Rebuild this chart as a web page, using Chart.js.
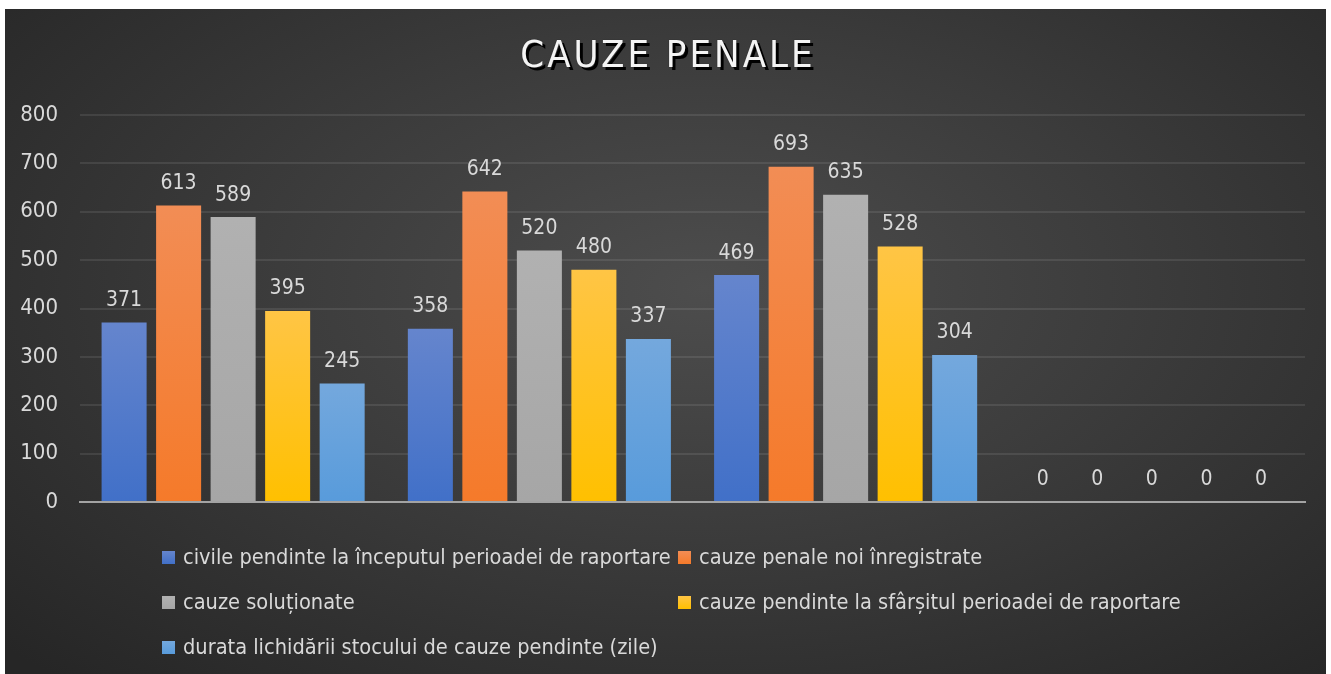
<!DOCTYPE html>
<html lang="ro">
<head>
  <meta charset="UTF-8">
  <title>Cauze penale</title>
  <script src="https://cdn.jsdelivr.net/npm/chart.js"></script>
  <style>
    html, body { margin: 0; padding: 0; background: #fff; }
    #box {
      position: absolute; left: 5px; top: 9px; width: 1321px; height: 665px;
      background: radial-gradient(ellipse 72% 80% at 53% 42%, #4d4d4d 0%, #3c3c3c 45%, #262626 100%);
      overflow: hidden;
    }
    #chart { position: absolute; left: 0; top: 0; }
    #legend {
      position: absolute; left: 157px; top: 531px;
      display: grid; grid-template-columns: 516px auto; row-gap: 0;
      font-family: "DejaVu Sans Condensed", "Liberation Sans Narrow", sans-serif;
      font-size: 21.6px; color: #d9d9d9;
    }
    #legend .item { height: 45px; line-height: 34px; white-space: nowrap; }
    #legend .sw { display: inline-block; width: 13px; height: 13px; margin-right: 8px; vertical-align: 0px; }
  </style>
</head>
<body>
<div id="box">
  <canvas id="chart" width="1321" height="665"></canvas>
  <div id="legend"></div>
</div>
<script>
  const categories = ['', '', '', ''];
  const seriesNames = [
    'civile pendinte la începutul perioadei de raportare',
    'cauze penale noi înregistrate',
    'cauze soluționate',
    'cauze pendinte la sfârșitul perioadei de raportare',
    'durata lichidării stocului de cauze pendinte (zile)'
  ];
  const civilePendinte = [371, 358, 469, 0];
  const noiInregistrate = [613, 642, 693, 0];
  const solutionate = [589, 520, 635, 0];
  const pendinteSfarsit = [395, 480, 528, 0];
  const durataLichidare = [245, 337, 304, 0];
  const yTicks = [0, 100, 200, 300, 400, 500, 600, 700, 800];

  // top / bottom colours of each bar gradient
  const colors = [
    ['#6585cd', '#4170c8'],
    ['#f28d55', '#f57a2a'],
    ['#b1b1b1', '#a6a6a6'],
    ['#ffc545', '#ffc000'],
    ['#74a8dd', '#589bdb']
  ];
  const FONT = '"DejaVu Sans Condensed", "Liberation Sans Narrow", sans-serif';

  function barFill(i) {
    return function (ctx) {
      const chart = ctx.chart;
      const area = chart.chartArea;
      if (!area) return colors[i][1];
      const v = ctx.raw || 0;
      const top = chart.scales.y.getPixelForValue(v);
      const g = chart.ctx.createLinearGradient(0, top, 0, area.bottom);
      g.addColorStop(0, colors[i][0]);
      g.addColorStop(1, colors[i][1]);
      return g;
    };
  }

  const allData = [civilePendinte, noiInregistrate, solutionate, pendinteSfarsit, durataLichidare];

  const titlePlugin = {
    id: 'shadowTitle',
    afterDraw(chart) {
      const c = chart.ctx;
      c.save();
      c.font = '38px ' + FONT;
      c.letterSpacing = '3px';
      c.textAlign = 'center';
      c.textBaseline = 'middle';
      c.fillStyle = '#000';
      c.fillText('CAUZE PENALE', 666, 51);
      c.fillStyle = '#f4f4f4';
      c.shadowColor = 'rgba(0,0,0,0.6)';
      c.shadowBlur = 1;
      c.fillText('CAUZE PENALE', 663, 48);
      c.restore();
    }
  };

  const valuePlugin = {
    id: 'values',
    afterDatasetsDraw(chart) {
      const c = chart.ctx;
      c.save();
      c.font = '21px ' + FONT;
      c.fillStyle = '#d9d9d9';
      c.textAlign = 'center';
      c.textBaseline = 'middle';
      chart.data.datasets.forEach((ds, i) => {
        chart.getDatasetMeta(i).data.forEach((bar, j) => {
          c.fillText(String(ds.data[j]), bar.x, bar.y - 22);
        });
      });
      c.restore();
    }
  };

  const chart = new Chart(document.getElementById('chart'), {
    type: 'bar',
    data: {
      labels: categories,
      datasets: allData.map((d, i) => ({
        label: seriesNames[i],
        data: d,
        backgroundColor: barFill(i),
        borderWidth: 0,
        categoryPercentage: 0.89,
        barPercentage: 0.826
      }))
    },
    options: {
      responsive: false,
      animation: false,
      layout: { padding: { top: 106, bottom: 164, left: 0, right: 21 } },
      plugins: { legend: { display: false }, title: { display: false }, tooltip: { enabled: false } },
      scales: {
        x: {
          ticks: { display: false },
          grid: { display: false },
          border: { display: true, color: '#a3a3a3', width: 2 }
        },
        y: {
          min: 0, max: 800,
          afterFit(scale) { scale.width = 75; },
          afterBuildTicks(scale) { scale.ticks = yTicks.map(v => ({ value: v })); },
          ticks: { color: '#d9d9d9', font: { family: FONT, size: 22 }, padding: 22 },
          grid: {
            drawTicks: false,
            lineWidth: 2,
            color: ctx => ctx.tick && ctx.tick.value === 0 ? 'rgba(0,0,0,0)' : 'rgba(255,255,255,0.09)'
          },
          border: { display: false }
        }
      }
    },
    plugins: [titlePlugin, valuePlugin]
  });

  const legend = document.getElementById('legend');
  seriesNames.forEach((name, i) => {
    const it = document.createElement('div');
    it.className = 'item';
    it.innerHTML = '<span class="sw" style="background:linear-gradient(' + colors[i][0] + ',' + colors[i][1] + ')"></span>' + name;
    legend.appendChild(it);
  });
</script>
</body>
</html>
